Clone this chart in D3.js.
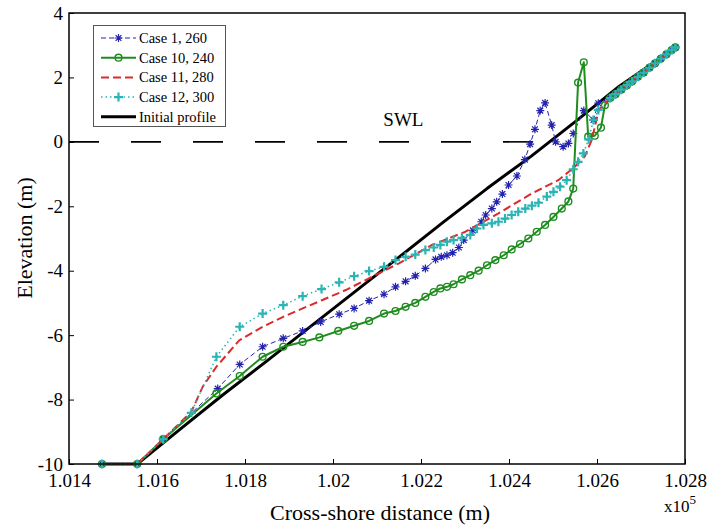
<!DOCTYPE html>
<html>
<head>
<meta charset="utf-8">
<script src="https://cdn.jsdelivr.net/npm/d3@7"></script>
<style>
  body { margin: 0; background: #fff; }
  svg { font-family: "Liberation Serif", "Times New Roman", serif; }
</style>
</head>
<body>
<svg id="chart" width="708" height="525"></svg>
<script>
// tick values (x in units of 1e5 m)
var xTicks = [1.014, 1.016, 1.018, 1.020, 1.022, 1.024, 1.026, 1.028];
var yTicks = [-10, -8, -6, -4, -2, 0, 2, 4];

// still water level, drawn out to where it meets the initial profile
var swl = [[1.014, 0], [1.02503, 0]];

// points shared by all runs near the top of the beach
var tail = [[1.02630, 1.36], [1.02642, 1.48], [1.02655, 1.62], [1.02668, 1.76],
  [1.02680, 1.88], [1.02693, 2.02], [1.02706, 2.15], [1.02719, 2.30],
  [1.02732, 2.44], [1.02745, 2.58], [1.02758, 2.72], [1.02770, 2.85], [1.02778, 2.93]];

var initialProfile = [[1.01475, -10], [1.01555, -10], [1.0165, -8.95], [1.0175, -7.85],
  [1.0185, -6.8], [1.0195, -5.72], [1.0205, -4.65], [1.0215, -3.58], [1.0225, -2.5],
  [1.0235, -1.45], [1.0245, -0.45], [1.0255, 0.62], [1.0265, 1.72], [1.0278, 2.94]];

var case1 = [[1.01475, -10], [1.01555, -10], [1.01614, -9.23], [1.01738, -7.66],
  [1.01788, -6.91], [1.0184, -6.36], [1.01887, -6.1], [1.01931, -5.87], [1.01972, -5.59],
  [1.02014, -5.35], [1.02048, -5.17], [1.02082, -4.93], [1.02116, -4.73], [1.02142, -4.5],
  [1.02165, -4.33], [1.02187, -4.16], [1.0221, -3.93], [1.02233, -3.65], [1.02246, -3.57],
  [1.02259, -3.52], [1.02272, -3.44], [1.02286, -3.28], [1.02297, -3.05], [1.02318, -2.75],
  [1.02337, -2.48], [1.02347, -2.27], [1.02361, -2.07], [1.02372, -1.86], [1.02385, -1.62],
  [1.02399, -1.34], [1.02418, -1.06], [1.02436, -0.55], [1.02448, -0.07], [1.02459, 0.39],
  [1.02471, 0.97], [1.02482, 1.21], [1.02497, 0.52], [1.02506, 0.0], [1.02523, -0.15],
  [1.02535, -0.05], [1.02546, 0.26], [1.0257, 0.97], [1.02592, 0.68], [1.02603, 1.2]];

var case10 = [[1.01475, -10], [1.01555, -10], [1.01614, -9.23], [1.01735, -7.81],
  [1.01788, -7.27], [1.0184, -6.67], [1.01887, -6.36], [1.01931, -6.21], [1.01969, -6.07],
  [1.02012, -5.87], [1.02048, -5.71], [1.02082, -5.56], [1.02116, -5.33], [1.02142, -5.25],
  [1.02165, -5.12], [1.02187, -5.0], [1.0221, -4.81], [1.02229, -4.66], [1.02244, -4.55],
  [1.02259, -4.5], [1.02274, -4.42], [1.02293, -4.27], [1.02312, -4.14], [1.02331, -4.0],
  [1.0235, -3.83], [1.02369, -3.67], [1.02388, -3.52], [1.02406, -3.34], [1.02425, -3.17],
  [1.02444, -3.0], [1.02463, -2.79], [1.02482, -2.58], [1.02501, -2.33], [1.0252, -2.07],
  [1.02535, -1.85], [1.02546, -1.45], [1.02557, 1.84], [1.0257, 2.47], [1.0258, 0.16],
  [1.02595, 0.19], [1.02609, 0.44], [1.02618, 1.14]];

var case11 = [[1.01475, -10], [1.01555, -10], [1.01614, -9.23], [1.01678, -8.38],
  [1.01704, -7.6], [1.01735, -6.98], [1.01787, -6.16], [1.0184, -5.74], [1.01887, -5.43],
  [1.01931, -5.17], [1.01976, -4.91], [1.02029, -4.6], [1.02074, -4.29], [1.0215, -3.77],
  [1.02225, -3.2], [1.02301, -2.79], [1.02376, -2.22], [1.02452, -1.6], [1.02512, -1.19],
  [1.0255, -0.77], [1.02572, -0.46], [1.02588, 0.06], [1.02604, 0.99]];

var case12 = [[1.01475, -10], [1.01555, -10], [1.01614, -9.23], [1.01678, -8.41],
  [1.01735, -6.67], [1.01788, -5.74], [1.0184, -5.33], [1.01887, -5.07], [1.01931, -4.79],
  [1.01974, -4.57], [1.02014, -4.36], [1.02048, -4.17], [1.02082, -4.01], [1.02116, -3.88],
  [1.02142, -3.67], [1.02165, -3.57], [1.02187, -3.5], [1.0221, -3.36], [1.02229, -3.28],
  [1.02244, -3.2], [1.02259, -3.1], [1.02274, -3.05], [1.02293, -2.98], [1.02312, -2.89],
  [1.02327, -2.69], [1.02342, -2.58], [1.02361, -2.53], [1.02376, -2.48], [1.02391, -2.38],
  [1.02406, -2.27], [1.02421, -2.17], [1.02437, -2.07], [1.02452, -1.98], [1.02467, -1.89],
  [1.02486, -1.7], [1.02501, -1.55], [1.02516, -1.39], [1.02531, -1.19], [1.02546, -0.85],
  [1.02557, -0.62], [1.02569, -0.36], [1.02581, 0.08], [1.02592, 0.68], [1.02603, 0.99]];

var seriesNames = ['Case 1, 260', 'Case 10, 240', 'Case 11, 280', 'Case 12, 300', 'Initial profile'];

var svg = d3.select('#chart');
// plot box edges ("top" is reserved on window, so prefixed names)
var boxL = 69, boxR = 685, boxT = 13, boxB = 464;

var x = d3.scaleLinear().domain([1.014, 1.028]).range([boxL, boxR]);
var y = d3.scaleLinear().domain([-10, 4]).range([boxB, boxT]);

var line = d3.line().x(function (d) { return x(d[0]); }).y(function (d) { return y(d[1]); });

var series = [
  { name: seriesNames[0], data: case1.concat(tail), color: '#2323b0', width: 1, dash: '5,3', marker: 'star' },
  { name: seriesNames[1], data: case10.concat(tail), color: '#1f8c1f', width: 2, dash: null, marker: 'circle' },
  { name: seriesNames[2], data: case11.concat(tail), color: '#dc2a2a', width: 2, dash: '8,4', marker: null },
  { name: seriesNames[3], data: case12.concat(tail), color: '#2ab4b4', width: 1.5, dash: '1.5,3', marker: 'plus' },
  { name: seriesNames[4], data: initialProfile, color: '#000', width: 3, dash: null, marker: null }
];

// axes
var xAxis = d3.axisBottom(x).tickValues(xTicks).tickSizeInner(-5).tickSizeOuter(0).tickPadding(12)
  .tickFormat(function (d) { return String(+d.toFixed(3)); });
var yAxis = d3.axisLeft(y).tickValues(yTicks).tickSizeInner(-5).tickSizeOuter(0).tickPadding(6)
  .tickFormat(function (d) { return String(d); });

var gx = svg.append('g').attr('transform', 'translate(0,' + boxB + ')').call(xAxis);
var gy = svg.append('g').attr('transform', 'translate(' + boxL + ',0)').call(yAxis);
[gx, gy].forEach(function (g) {
  g.attr('font-family', '"Liberation Serif", serif').attr('font-size', 19);
  g.select('.domain').remove();
  g.selectAll('.tick line').attr('stroke', '#000');
  g.selectAll('.tick text').attr('fill', '#000').style('font-family', '"Liberation Serif", serif');
});
gx.selectAll('.tick text').attr('dy', '0.6em');

// SWL
svg.append('path').datum(swl).attr('d', line)
  .attr('fill', 'none').attr('stroke', '#000').attr('stroke-width', 1.6)
  .attr('stroke-dasharray', '30,32');
svg.append('text').attr('x', x(1.0216)).attr('y', y(0.5))
  .attr('text-anchor', 'middle').style('font-size', '19px').text('SWL');

function drawMarker(g, kind, cx, cy, color) {
  if (kind === 'circle') {
    g.append('circle').attr('cx', cx).attr('cy', cy).attr('r', 3.4)
      .attr('fill', 'none').attr('stroke', color).attr('stroke-width', 1.4);
  } else if (kind === 'plus') {
    var s = 4.5;
    g.append('path').attr('d', 'M' + (cx - s) + ',' + cy + 'H' + (cx + s) + 'M' + cx + ',' + (cy - s) + 'V' + (cy + s))
      .attr('stroke', color).attr('stroke-width', 2.2);
  } else if (kind === 'star') {
    var r = 4, q = 2.9;
    g.append('path').attr('d', 'M' + (cx - r) + ',' + cy + 'H' + (cx + r) + 'M' + cx + ',' + (cy - r) + 'V' + (cy + r) +
      'M' + (cx - q) + ',' + (cy - q) + 'L' + (cx + q) + ',' + (cy + q) + 'M' + (cx - q) + ',' + (cy + q) + 'L' + (cx + q) + ',' + (cy - q))
      .attr('stroke', color).attr('stroke-width', 1.2);
  }
}

// initial profile first so the run markers stay visible on top of it
var order = [4, 0, 1, 2, 3];
order.forEach(function (i) {
  var s = series[i];
  var g = svg.append('g');
  g.append('path').datum(s.data).attr('d', line)
    .attr('fill', 'none').attr('stroke', s.color).attr('stroke-width', s.width)
    .attr('stroke-dasharray', s.dash).attr('stroke-linejoin', 'round');
  if (s.marker) {
    s.data.forEach(function (d) { drawMarker(g, s.marker, x(d[0]), y(d[1]), s.color); });
  }
});

// frame
svg.append('rect').attr('x', boxL).attr('y', boxT).attr('width', boxR - boxL).attr('height', boxB - boxT)
  .attr('fill', 'none').attr('stroke', '#000').attr('stroke-width', 1.5);

// legend
var lg = svg.append('g');
lg.append('rect').attr('x', 93.5).attr('y', 25.5).attr('width', 132).attr('height', 101)
  .attr('fill', '#fff').attr('stroke', '#555').attr('stroke-width', 1);
series.forEach(function (s, i) {
  var ly = 38 + i * 19.7;
  lg.append('line').attr('x1', 101).attr('x2', 136).attr('y1', ly).attr('y2', ly)
    .attr('stroke', s.color).attr('stroke-width', s.width).attr('stroke-dasharray', s.dash);
  if (s.marker) drawMarker(lg, s.marker, 118.5, ly, s.color);
  lg.append('text').attr('x', 139).attr('y', ly + 5).style('font-size', '14.5px').text(s.name);
});

// axis titles
svg.append('text').attr('x', 380).attr('y', 520).attr('text-anchor', 'middle')
  .style('font-size', '22px').text('Cross-shore distance (m)');
svg.append('text').attr('transform', 'translate(32,238) rotate(-90)').attr('text-anchor', 'middle')
  .style('font-size', '22px').text('Elevation (m)');
var ex = svg.append('text').attr('x', 664).attr('y', 512).style('font-size', '17px');
ex.append('tspan').text('x10');
ex.append('tspan').attr('dy', -8).style('font-size', '13px').text('5');
</script>
</body>
</html>
